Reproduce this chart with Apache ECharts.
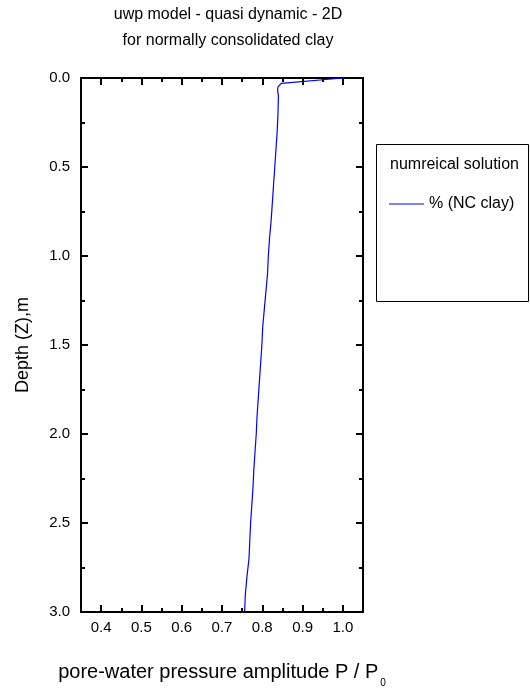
<!DOCTYPE html>
<html>
<head>
<meta charset="utf-8">
<script src="https://cdn.jsdelivr.net/npm/echarts@6/dist/echarts.min.js"></script>
<style>
  html, body { margin: 0; padding: 0; background: #fff; }
  #chart { width: 530px; height: 693px; }
</style>
</head>
<body>
<div id="chart"></div>
<script>
// depth (m) and normalised pore-water pressure amplitude P / P0
const depth = [0.00, 0.03, 0.05, 0.07, 0.10, 0.20, 0.30, 0.40, 0.50, 0.60, 0.70, 0.80, 0.90, 1.00,
  1.10, 1.20, 1.30, 1.40, 1.50, 1.60, 1.70, 1.80, 1.90, 2.00, 2.10, 2.20, 2.30, 2.40, 2.50,
  2.60, 2.70, 2.80, 2.90, 3.00];
const amplitude = [1.000, 0.847, 0.839, 0.838, 0.840, 0.839, 0.837, 0.834, 0.831, 0.828, 0.825, 0.822, 0.818, 0.815,
  0.813, 0.809, 0.805, 0.801, 0.799, 0.796, 0.793, 0.790, 0.787, 0.785, 0.782, 0.779, 0.777, 0.774, 0.771,
  0.769, 0.767, 0.762, 0.758, 0.756];

const xMajor = [0.4, 0.5, 0.6, 0.7, 0.8, 0.9, 1.0];
const xMinor = [0.45, 0.55, 0.65, 0.75, 0.85, 0.95];
const yMajor = [0, 0.5, 1.0, 1.5, 2.0, 2.5, 3.0];
const yMinor = [0.25, 0.75, 1.25, 1.75, 2.25, 2.75];

const seriesName = '% (NC clay)';
const legendTitle = 'numreical solution';

const font = 'Liberation Sans, Arial, sans-serif';
const black = '#000';
const blue = '#0000ff';

const chart = echarts.init(document.getElementById('chart'));

const xBase = {
  type: 'value', min: 0.35, max: 1.05, gridIndex: 0,
  axisLine: { show: true, onZero: false, lineStyle: { color: black, width: 2 } },
  splitLine: { show: false }
};
const yBase = {
  type: 'value', min: 0, max: 3, inverse: true, gridIndex: 0,
  axisLine: { show: true, onZero: false, lineStyle: { color: black, width: 2 } },
  splitLine: { show: false }
};

// major and minor ticks on every side, drawn by stacked axes
function ticks(values, len) {
  return { show: true, inside: true, length: len, lineStyle: { color: black, width: 2 }, customValues: values };
}

const xAxes = [
  Object.assign({}, xBase, {
    position: 'bottom',
    name: '{a|pore-water pressure amplitude P / P}{s|0}',
    nameLocation: 'middle',
    nameGap: 44,
    nameTextStyle: {
      rich: {
        a: { fontFamily: font, fontSize: 20, color: black },
        s: { fontFamily: font, fontSize: 10, color: black, padding: [22, 0, 0, 2] }
      }
    },
    axisTick: ticks(xMajor, 7),
    axisLabel: { show: true, customValues: xMajor, margin: 8, fontFamily: font, fontSize: 15, color: black,
      formatter: (v) => v.toFixed(1) }
  }),
  Object.assign({}, xBase, { position: 'bottom', axisTick: ticks(xMinor, 4), axisLabel: { show: false } }),
  Object.assign({}, xBase, { position: 'top', axisTick: ticks(xMajor, 7), axisLabel: { show: false } }),
  Object.assign({}, xBase, { position: 'top', axisTick: ticks(xMinor, 4), axisLabel: { show: false } })
];

const yAxes = [
  Object.assign({}, yBase, {
    position: 'left',
    name: 'Depth (Z),m',
    nameLocation: 'middle',
    nameGap: 49,
    nameRotate: 90,
    nameTextStyle: { fontFamily: font, fontSize: 18, color: black },
    axisTick: ticks(yMajor, 7),
    axisLabel: { show: true, customValues: yMajor, margin: 11, fontFamily: font, fontSize: 15, color: black,
      formatter: (v) => v.toFixed(1) }
  }),
  Object.assign({}, yBase, { position: 'left', axisTick: ticks(yMinor, 4), axisLabel: { show: false } }),
  Object.assign({}, yBase, { position: 'right', axisTick: ticks(yMajor, 7), axisLabel: { show: false } }),
  Object.assign({}, yBase, { position: 'right', axisTick: ticks(yMinor, 4), axisLabel: { show: false } })
];

const option = {
  backgroundColor: '#fff',
  animation: false,
  title: {
    text: 'uwp model - quasi dynamic - 2D\nfor normally consolidated clay',
    left: 228,
    textAlign: 'center',
    top: 2,
    padding: 0,
    textStyle: { fontFamily: font, fontSize: 16, fontWeight: 'normal', color: black, lineHeight: 26 }
  },
  grid: { left: 81, right: 167, top: 78, bottom: 76, containLabel: false },
  xAxis: xAxes,
  yAxis: yAxes,
  legend: {
    data: [{ name: seriesName, icon: 'rect' }],
    left: 389,
    top: 196,
    padding: 0,
    itemWidth: 35,
    itemHeight: 1,
    itemGap: 6,
    textStyle: { fontFamily: font, fontSize: 16, color: black }
  },
  graphic: [
    {
      type: 'rect',
      left: 374,
      top: 142,
      shape: { width: 152, height: 157 },
      style: { fill: 'none', stroke: black, lineWidth: 1 }
    },
    {
      type: 'text',
      left: 390,
      top: 157,
      style: { text: legendTitle, font: '16px ' + font, fill: black }
    }
  ],
  series: [
    {
      name: seriesName,
      type: 'line',
      xAxisIndex: 0,
      yAxisIndex: 0,
      data: depth.map((d, i) => [amplitude[i], d]),
      symbol: 'none',
      lineStyle: { color: blue, width: 1.2 },
      itemStyle: { color: blue }
    }
  ]
};

chart.setOption(option);
</script>
</body>
</html>
